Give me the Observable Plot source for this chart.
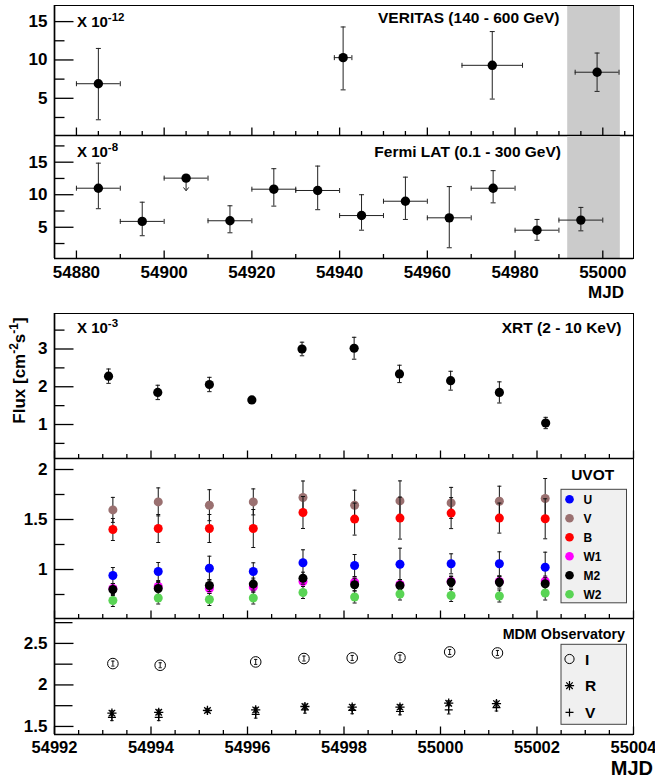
<!DOCTYPE html>
<html><head><meta charset="utf-8">
<script src="https://cdn.jsdelivr.net/npm/d3@7"></script>
<script src="https://cdn.jsdelivr.net/npm/@observablehq/plot@0.6"></script>
<style>
body{margin:0;background:#fff;}
#chart{position:relative;width:655px;height:778px;overflow:hidden;background:#fff;}
</style></head>
<body><div id="chart"></div>
<script>
// ---------------- DATA ----------------
// VERITAS (x 1e-12)
const veritasMJD   = [54885.0, 54940.8, 54974.8, 54998.7];
const veritasXErr  = [5.0, 2.0, 6.9, 5.0];
const veritasFlux  = [6.9, 10.3, 9.3, 8.4];
const veritasErrUp = [4.6, 4.0, 4.4, 2.5];
const veritasErrDn = [4.7, 4.2, 4.4, 2.5];
// Fermi LAT (x 1e-8)
const fermiMJD   = [54885, 54895, 54905, 54915, 54925, 54935, 54945, 54955, 54965, 54975, 54985, 54995];
const fermiXErr  = [5, 5, 5, 5, 5, 5, 5, 5, 5, 5, 5, 5];
const fermiFlux  = [11.0, 5.9, 12.55, 6.0, 10.85, 10.65, 6.8, 9.0, 6.45, 11.0, 4.55, 6.1];
const fermiErrUp = [3.85, 2.95, 0, 2.3, 3.15, 3.75, 3.2, 3.7, 4.8, 2.7, 1.65, 1.95];
const fermiErrDn = [3.15, 2.2, 0, 1.85, 2.6, 2.95, 2.25, 2.8, 4.6, 2.25, 1.55, 1.65];
const fermiUpperLimit = [false, false, true, false, false, false, false, false, false, false, false, false];
const fermiArrowTo    = [null, null, 10.6, null, null, null, null, null, null, null, null, null];
// highlighted window (MJD)
const bandStart = 54992, bandEnd = 55004;
// XRT (x 1e-3)
const xrtMJD  = [54993.12, 54994.14, 54995.21, 54996.09, 54997.13, 54998.21, 54999.15, 55000.21, 55001.22, 55002.18];
const xrtFlux = [2.28, 1.85, 2.06, 1.65, 3.0, 3.02, 2.34, 2.16, 1.85, 1.04];
const xrtErr  = [0.19, 0.19, 0.19, 0.06, 0.18, 0.29, 0.23, 0.25, 0.28, 0.15];
// UVOT
const uvotMJD = [54993.21, 54994.15, 54995.21, 54996.12, 54997.15, 54998.22, 54999.16, 55000.22, 55001.22, 55002.17];
const uvotNames = ["U", "V", "B", "W1", "M2", "W2"];
const uvotU   = [0.94, 0.98, 1.013, 0.98, 1.067, 1.04, 1.053, 1.057, 1.057, 1.023];
const uvotUErr= [0.08, 0.09, 0.12, 0.087, 0.13, 0.11, 0.16, 0.10, 0.12, 0.15];
const uvotV   = [1.596, 1.676, 1.643, 1.676, 1.72, 1.643, 1.686, 1.666, 1.683, 1.71];
const uvotVErr= [0.125, 0.14, 0.155, 0.13, 0.165, 0.15, 0.2, 0.155, 0.15, 0.2];
const uvotB   = [1.40, 1.41, 1.41, 1.41, 1.57, 1.504, 1.514, 1.564, 1.514, 1.507];
const uvotBErr= [0.11, 0.14, 0.14, 0.19, 0.16, 0.16, 0.21, 0.155, 0.15, 0.2];
const uvotW1  = [0.81, 0.83, 0.81, 0.825, 0.88, 0.874, 0.85, 0.88, 0.88, 0.884];
const uvotW1Err=[0.05, 0.05, 0.05, 0.05, 0.05, 0.05, 0.05, 0.05, 0.05, 0.05];
const uvotM2  = [0.80, 0.81, 0.84, 0.854, 0.913, 0.848, 0.84, 0.874, 0.874, 0.858];
const uvotM2Err=[0.06, 0.06, 0.06, 0.06, 0.06, 0.06, 0.06, 0.06, 0.06, 0.06];
const uvotW2  = [0.69, 0.715, 0.70, 0.715, 0.77, 0.725, 0.755, 0.74, 0.735, 0.765];
const uvotW2Err=[0.06, 0.06, 0.06, 0.06, 0.06, 0.06, 0.06, 0.06, 0.06, 0.07];
// MDM Observatory
const mdmIMJD = [54993.21, 54994.19, 54996.17, 54997.17, 54998.17, 54999.16, 55000.19, 55001.18];
const mdmI    = [2.257, 2.237, 2.277, 2.318, 2.325, 2.33, 2.397, 2.385];
const mdmIErr = [0.03, 0.03, 0.03, 0.03, 0.03, 0.03, 0.03, 0.03];
const mdmRVMJD= [54993.19, 54994.16, 54995.17, 54996.17, 54997.19, 54998.17, 54999.16, 55000.17, 55001.16];
const mdmR    = [1.66, 1.67, 1.693, 1.70, 1.74, 1.733, 1.733, 1.78, 1.775];
const mdmRErr = [0.03, 0.03, 0.02, 0.03, 0.03, 0.03, 0.03, 0.03, 0.03];
const mdmV    = [1.61, 1.61, 1.69, 1.645, 1.70, 1.693, 1.68, 1.70, 1.726];
const mdmVErr = [0.04, 0.04, 0.02, 0.045, 0.04, 0.04, 0.04, 0.05, 0.04];
// tick labels
const topXTicks = [54880, 54900, 54920, 54940, 54960, 54980, 55000];
const bottomXTicks = [54992, 54994, 54996, 54998, 55000, 55002, 55004];
const veritasYTicks = [5, 10, 15];
const fermiYTicks = [5, 10, 15];
const xrtYTicks = [1, 2, 3];
const uvotYTicks = [1, 1.5, 2];
const mdmYTicks = [1.5, 2, 2.5];

// ---------------- STYLE ----------------
const FONT = '"Liberation Sans", Arial, Helvetica, sans-serif';
const W = 655, L = 54, R = 633;
const uvotColors = ["#0000ff", "#9a7070", "#ff0000", "#ff00ff", "#000000", "#59d454"];

// custom symbols (line-drawn)
const rad = s => Math.sqrt(s / Math.PI);
const capH = {draw(c, s){const w = rad(s); c.moveTo(-w, 0); c.lineTo(w, 0);}};
const capV = {draw(c, s){const w = rad(s); c.moveTo(0, -w); c.lineTo(0, w);}};
const tickRight = {draw(c, s){const w = rad(s); c.moveTo(0, 0); c.lineTo(w, 0);}};
const tickUp = {draw(c, s){const w = rad(s); c.moveTo(0, 0); c.lineTo(0, -w);}};
const arrowDown = {draw(c, s){const w = rad(s); c.moveTo(-w, -w * 1.3); c.lineTo(0, 0); c.lineTo(w, -w * 1.3);}};
const star8 = {draw(c, s){const w = rad(s), d = w * 0.7071;
  c.moveTo(-w, 0); c.lineTo(w, 0); c.moveTo(0, -w); c.lineTo(0, w);
  c.moveTo(-d, -d); c.lineTo(d, d); c.moveTo(-d, d); c.lineTo(d, -d);}};
const plusSym = {draw(c, s){const w = rad(s); c.moveTo(-w, 0); c.lineTo(w, 0); c.moveTo(0, -w); c.lineTo(0, w);}};

const root = document.getElementById("chart");

function panel({top, bottom, xDomain, yDomain, yMajor, yMinor, yMinorLen = 10, xMajor, xMinor,
                xLabels = false, xLabelFont = 17, xLabelDy = 14, yLabelFont = 17, marks}) {
  const mt = 6, mb = xLabels ? 34 : 6;
  const h = bottom - top;
  const x0 = xDomain[0], y0 = yDomain[0];
  const tickStyle = {stroke: "black", strokeWidth: 1.3, fill: "none"};
  const svg = Plot.plot({
    width: W, height: h + mt + mb,
    marginLeft: L, marginRight: W - R, marginTop: mt, marginBottom: mb,
    x: {domain: xDomain, axis: null},
    y: {domain: yDomain, axis: null},
    style: {fontFamily: FONT, background: "transparent", overflow: "visible"},
    marks: [
      ...marks,
      Plot.frame({stroke: "black", strokeWidth: 1}),
      Plot.ruleX([x0], {stroke: "black", strokeWidth: 1.7}),
      Plot.ruleY([y0], {stroke: "black", strokeWidth: 1.7}),
      Plot.dot(yMajor, {x: () => x0, y: d => d, symbol: tickRight, r: 19, ...tickStyle}),
      Plot.dot(yMinor, {x: () => x0, y: d => d, symbol: tickRight, r: yMinorLen, ...tickStyle}),
      Plot.dot(xMajor, {x: d => d, y: () => y0, symbol: tickUp, r: 8, ...tickStyle}),
      Plot.dot(xMinor, {x: d => d, y: () => y0, symbol: tickUp, r: 4.5, ...tickStyle}),
      Plot.text(yMajor, {x: () => x0, y: d => d, text: d => String(d), textAnchor: "end", dx: -7,
                         fontSize: yLabelFont, fontWeight: "bold", fill: "black"}),
      ...(xLabels ? [Plot.text(xMajor, {x: d => d, y: () => y0, text: d => String(d), dy: xLabelDy,
                         fontSize: xLabelFont, fontWeight: "bold", fill: "black"})] : [])
    ]
  });
  svg.style.position = "absolute";
  svg.style.left = "0px";
  svg.style.top = (top - mt) + "px";
  root.appendChild(svg);
}

// error bar mark helper
function errMarks(d, {color = "#222", cap = 2.5, xerr = true, sw = 1}) {
  const s = {stroke: color, strokeWidth: sw, fill: "none"};
  const ve = d.filter(e => e.yh > e.yl);
  const m = [];
  if (xerr) {
    m.push(Plot.ruleY(d, {y: "y", x1: "xl", x2: "xh", ...s}));
    m.push(Plot.dot(d, {x: "xl", y: "y", symbol: capV, r: cap, ...s}));
    m.push(Plot.dot(d, {x: "xh", y: "y", symbol: capV, r: cap, ...s}));
  }
  m.push(Plot.ruleX(ve, {x: "x", y1: "yl", y2: "yh", ...s}));
  m.push(Plot.dot(ve, {x: "x", y: "yl", symbol: capH, r: cap, ...s}));
  m.push(Plot.dot(ve, {x: "x", y: "yh", symbol: capH, r: cap, ...s}));
  return m;
}

const topX = [54875, 55007];
const botX = [bandStart, bandEnd];
const topMinor5 = d3.range(54880, 55007, 5).filter(v => !topXTicks.includes(v));
const topMinor10 = d3.range(54880, 55007, 10).filter(v => !topXTicks.includes(v));
const botMinor = d3.range(54992, 55004.01, 0.5).filter(v => !bottomXTicks.includes(v));

// ---- VERITAS ----
const ver = veritasMJD.map((m, i) => ({x: m, y: veritasFlux[i], xl: m - veritasXErr[i], xh: m + veritasXErr[i],
  yl: veritasFlux[i] - veritasErrDn[i], yh: veritasFlux[i] + veritasErrUp[i]}));
const verY = [0.15, 17.1];
panel({top: 5, bottom: 135, xDomain: topX, yDomain: verY, yMajor: veritasYTicks, yMinor: [2.5, 7.5, 12.5],
  xMajor: topXTicks, xMinor: topMinor5,
  marks: [
    Plot.rect([bandStart], {x1: d => d, x2: () => bandEnd, y1: () => verY[0], y2: () => verY[1], fill: "#cbcbcb"}),
    ...errMarks(ver, {}),
    Plot.dot(ver, {x: "x", y: "y", r: 4.7, fill: "black"})
  ]});

// ---- Fermi ----
const fer = fermiMJD.map((m, i) => ({x: m, y: fermiFlux[i], xl: m - fermiXErr[i], xh: m + fermiXErr[i],
  yl: fermiFlux[i] - fermiErrDn[i], yh: fermiFlux[i] + fermiErrUp[i], ul: fermiUpperLimit[i], to: fermiArrowTo[i]}));
const ferUL = fer.filter(d => d.ul);
const ferY = [0.2, 19.1];
panel({top: 135, bottom: 258, xDomain: topX, yDomain: ferY, yMajor: fermiYTicks, yMinor: [2.5, 7.5, 12.5, 17.5],
  xMajor: topXTicks, xMinor: topMinor10, xLabels: true, xLabelFont: 17, xLabelDy: 14,
  marks: [
    Plot.rect([bandStart], {x1: d => d, x2: () => bandEnd, y1: () => ferY[0], y2: () => ferY[1], fill: "#cbcbcb"}),
    ...errMarks(fer, {}),
    Plot.ruleX(ferUL, {x: "x", y1: "y", y2: "to", stroke: "#222", strokeWidth: 1}),
    Plot.dot(ferUL, {x: "x", y: "to", symbol: arrowDown, r: 2.6, stroke: "#222", strokeWidth: 1, fill: "none"}),
    Plot.dot(fer, {x: "x", y: "y", r: 4.7, fill: "black"})
  ]});

// ---- XRT ----
const xrt = xrtMJD.map((m, i) => ({x: m, y: xrtFlux[i], yl: xrtFlux[i] - xrtErr[i], yh: xrtFlux[i] + xrtErr[i]}));
panel({top: 313, bottom: 458, xDomain: botX, yDomain: [0.1, 3.94], yMajor: xrtYTicks, yMinor: [0.5, 1.5, 2.5, 3.5],
  xMajor: bottomXTicks, xMinor: botMinor,
  marks: [
    ...errMarks(xrt, {xerr: false, cap: 2.2, color: "#111"}),
    Plot.dot(xrt, {x: "x", y: "y", r: 4.6, fill: "black"})
  ]});

// ---- UVOT ----
const uvotVals = [uvotU, uvotV, uvotB, uvotW1, uvotM2, uvotW2];
const uvotErrs = [uvotUErr, uvotVErr, uvotBErr, uvotW1Err, uvotM2Err, uvotW2Err];
const uvotMarks = [];
uvotNames.forEach((name, k) => {
  const d = uvotMJD.map((m, i) => ({x: m, y: uvotVals[k][i], yl: uvotVals[k][i] - uvotErrs[k][i], yh: uvotVals[k][i] + uvotErrs[k][i], band: name}));
  uvotMarks.push(...errMarks(d, {xerr: false, cap: 2, color: "#111"}));
  uvotMarks.push(Plot.dot(d, {x: "x", y: "y", r: 4.5, fill: uvotColors[k]}));
});
panel({top: 458, bottom: 618, xDomain: botX, yDomain: [0.51, 2.11], yMajor: uvotYTicks, yMinor: [0.75, 1.25, 1.75],
  xMajor: bottomXTicks, xMinor: botMinor, marks: uvotMarks});

// ---- MDM ----
const mI = mdmIMJD.map((m, i) => ({x: m, y: mdmI[i], yl: mdmI[i] - mdmIErr[i], yh: mdmI[i] + mdmIErr[i]}));
const mR = mdmRVMJD.map((m, i) => ({x: m, y: mdmR[i], yl: mdmR[i] - mdmRErr[i], yh: mdmR[i] + mdmRErr[i]}));
const mV = mdmRVMJD.map((m, i) => ({x: m, y: mdmV[i], yl: mdmV[i] - mdmVErr[i], yh: mdmV[i] + mdmVErr[i]}));
panel({top: 618, bottom: 734, xDomain: botX, yDomain: [1.403, 2.80], yMajor: mdmYTicks, yMinor: [1.75, 2.25, 2.75], yMinorLen: 18,
  xMajor: bottomXTicks, xMinor: botMinor, xLabels: true, xLabelFont: 16.5, xLabelDy: 13,
  marks: [
    ...errMarks(mI, {xerr: false, cap: 1.6, color: "#111"}),
    Plot.dot(mI, {x: "x", y: "y", r: 5.3, stroke: "black", strokeWidth: 1, fill: "none"}),
    ...errMarks(mV, {xerr: false, cap: 1.8, color: "#111"}),
    Plot.dot(mV, {x: "x", y: "y", symbol: plusSym, r: 4, stroke: "black", strokeWidth: 1.2, fill: "none"}),
    ...errMarks(mR, {xerr: false, cap: 1.8, color: "#111"}),
    Plot.dot(mR, {x: "x", y: "y", symbol: star8, r: 4.6, stroke: "black", strokeWidth: 1.3, fill: "none"})
  ]});

// ---------------- ANNOTATIONS / LEGENDS ----------------
const ov = d3.create("svg").attr("width", W).attr("height", 778)
  .style("position", "absolute").style("left", "0px").style("top", "0px")
  .style("font-family", FONT).style("font-weight", "bold").style("overflow", "visible");

function sci(x, y, exp) {
  const t = ov.append("text").attr("x", x).attr("y", y).attr("font-size", 15);
  t.append("tspan").text("X 10");
  t.append("tspan").attr("dy", -6.5).attr("font-size", 11.5).text(exp);
}
function label(x, y, txt, size, anchor = "end") {
  ov.append("text").attr("x", x).attr("y", y).attr("font-size", size).attr("text-anchor", anchor).text(txt);
}
sci(77, 27, "-12");
label(559.5, 22.5, "VERITAS (140 - 600 GeV)", 15.5);
sci(77, 157, "-8");
label(561, 157, "Fermi LAT (0.1 - 300 GeV)", 15.5);
label(624, 298, "MJD", 17);
sci(77, 333, "-3");
label(621.5, 333, "XRT (2 - 10 KeV)", 15.5);
label(592.7, 480, "UVOT", 15.5, "middle");
label(625, 639, "MDM Observatory", 14.3);
label(653, 775, "MJD", 20);

// y-axis title
const fl = ov.append("text").attr("transform", "translate(25,370.5) rotate(-90)")
  .attr("text-anchor", "middle").attr("font-size", 17);
fl.append("tspan").text("Flux [cm");
fl.append("tspan").attr("dy", -7).attr("font-size", 12).text("-2");
fl.append("tspan").attr("dy", 7).text("s");
fl.append("tspan").attr("dy", -7).attr("font-size", 12).text("-1");
fl.append("tspan").attr("dy", 7).text("]");

// UVOT legend
ov.append("rect").attr("x", 561).attr("y", 489.3).attr("width", 65.5).attr("height", 113.5)
  .attr("fill", "#f0f0f0").attr("stroke", "#444").attr("stroke-width", 1);
uvotNames.forEach((n, k) => {
  const cy = 499.3 + k * 19;
  ov.append("circle").attr("cx", 569.5).attr("cy", cy).attr("r", 4.3).attr("fill", uvotColors[k]);
  ov.append("text").attr("x", 583.5).attr("y", cy + 4.3).attr("font-size", 12).text(n);
});

// MDM legend
ov.append("rect").attr("x", 561).attr("y", 644.3).attr("width", 65.5).attr("height", 80)
  .attr("fill", "#f0f0f0").attr("stroke", "#444").attr("stroke-width", 1);
const mdmNames = ["I", "R", "V"];
const mdmSyms = [null, star8, plusSym];
mdmNames.forEach((n, k) => {
  const cy = 659 + k * 26.7;
  if (k === 0) ov.append("circle").attr("cx", 569.5).attr("cy", cy).attr("r", 4.6).attr("fill", "none").attr("stroke", "black").attr("stroke-width", 1);
  else ov.append("path").attr("transform", `translate(569.5,${cy})`)
    .attr("d", d3.symbol(mdmSyms[k], Math.PI * (k === 1 ? 4.6 : 4) ** 2)())
    .attr("fill", "none").attr("stroke", "black").attr("stroke-width", 1.2);
  ov.append("text").attr("x", 585).attr("y", cy + 5.5).attr("font-size", 15.5).text(n);
});

root.appendChild(ov.node());
</script>
</body></html>
